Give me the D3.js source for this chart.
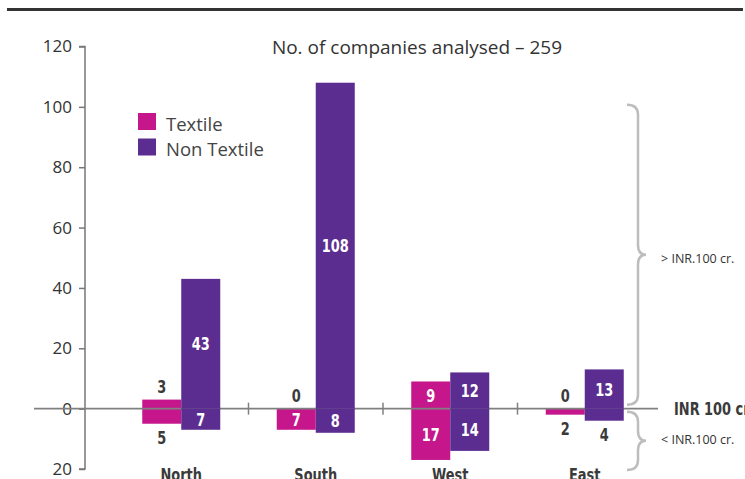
<!DOCTYPE html>
<html>
<head>
<meta charset="utf-8">
<script src="https://cdn.jsdelivr.net/npm/d3@7/dist/d3.min.js"></script>
<style>
  html, body { margin: 0; padding: 0; background: #fff; }
  svg { display: block; }
  .reg { font-family: "Open Sans", "Noto Sans", sans-serif; }
  .cond { font-family: "Liberation Sans Narrow", "DejaVu Sans Condensed", sans-serif; font-weight: bold; }
</style>
</head>
<body>
<svg id="chart" width="745" height="479"></svg>
<script>
// Companies by region, split by turnover band (above / below INR 100 cr)
const regions = ["North", "South", "West", "East"];
const series = ["Textile", "Non Textile"];
const textileAbove = [3, 0, 9, 0];
const textileBelow = [5, 7, 17, 2];
const nonTextileAbove = [43, 108, 12, 13];
const nonTextileBelow = [7, 8, 14, 4];
const yTicks = [-20, 0, 20, 40, 60, 80, 100, 120];
const title = "No. of companies analysed \u2013 259";

const colors = { "Textile": "#c5168c", "Non Textile": "#5c2d91" };
const textDark = "#3a3a3a";

const svg = d3.select("#chart");

// narrow bold text, squeezed horizontally
function condText(px, py, str, opts = {}) {
  return svg.append("text").attr("class", "cond")
    .attr("transform", `translate(${px},${py}) scale(0.8,1)`)
    .attr("dy", opts.dy || null)
    .attr("text-anchor", opts.anchor || "middle")
    .attr("font-size", 18).attr("fill", opts.fill || textDark).text(str);
}

// top rule
svg.append("rect").attr("x", 7).attr("y", 8).attr("width", 736).attr("height", 3).attr("fill", "#333");

const y = d3.scaleLinear().domain([-20, 120]).range([469, 46.5]);
const x = d3.scaleBand().domain(regions).range([114, 652]);
const xs = d3.scaleBand().domain(series)
  .range([(x.bandwidth() - 78) / 2, (x.bandwidth() + 78) / 2]);

// y axis
const yAxis = d3.axisLeft(y).tickValues(yTicks).tickSize(6).tickPadding(7)
  .tickFormat(d => String(Math.abs(d)));
const ga = svg.append("g").attr("transform", "translate(85,0)").call(yAxis);
ga.select(".domain").attr("stroke", "#777").attr("stroke-width", 1.5).attr("d", `M-6,${y(120)}H0V${y(-20)}H-6`);
ga.selectAll(".tick line").attr("stroke", "#777").attr("stroke-width", 1.5);
ga.selectAll(".tick text").attr("class", "reg").attr("font-size", 17).attr("fill", "#333");

// rows of bars
const rows = regions.map((r, i) => ({
  region: r,
  vals: [
    { s: "Textile", above: textileAbove[i], below: textileBelow[i] },
    { s: "Non Textile", above: nonTextileAbove[i], below: nonTextileBelow[i] }
  ]
}));

function drawBars(sName) {
  rows.forEach(row => {
    const v = row.vals.find(d => d.s === sName);
    const bx = x(row.region) + xs(sName);
    svg.append("rect").attr("x", bx).attr("width", xs.bandwidth())
      .attr("y", y(v.above)).attr("height", y(0) - y(v.above)).attr("fill", colors[sName]);
    svg.append("rect").attr("x", bx).attr("width", xs.bandwidth())
      .attr("y", y(0)).attr("height", y(-v.below) - y(0)).attr("fill", colors[sName]);
  });
}

drawBars("Textile");

// zero line and region separators
svg.append("line").attr("x1", 34).attr("x2", 658).attr("y1", y(0)).attr("y2", y(0))
  .attr("stroke", "#808080").attr("stroke-width", 1.8);
regions.slice(1).forEach(r => {
  svg.append("line").attr("x1", x(r)).attr("x2", x(r)).attr("y1", y(0) - 6).attr("y2", y(0) + 6)
    .attr("stroke", "#808080").attr("stroke-width", 1.5);
});

drawBars("Non Textile");

// value labels: inside tall bars, outside short ones
const inside = 6;
rows.forEach(row => {
  row.vals.forEach(v => {
    const cx = x(row.region) + xs(v.s) + xs.bandwidth() / 2;
    let ly, col;
    if (v.above >= inside) { ly = (y(v.above) + y(0)) / 2; col = "#fff"; }
    else { ly = y(v.above) - 13; col = textDark; }
    condText(cx, ly, v.above, { dy: "0.36em", fill: col });
    if (v.below >= inside) { ly = (y(-v.below) + y(0)) / 2; col = "#fff"; }
    else { ly = y(-v.below) + 14; col = textDark; }
    condText(cx, ly, v.below, { dy: "0.36em", fill: col });
  });
});

// region names
regions.forEach(r => condText(x(r) + x.bandwidth() / 2, 481, r));

// title
svg.append("text").attr("class", "reg").attr("x", 417).attr("y", 54).attr("text-anchor", "middle")
  .attr("font-size", 19).attr("fill", "#333").text(title);

// legend
series.forEach((s, i) => {
  const ly = 113 + i * 25.5;
  svg.append("rect").attr("x", 138).attr("y", ly).attr("width", 18).attr("height", 17).attr("fill", colors[s]);
  svg.append("text").attr("class", "reg").attr("x", 166).attr("y", ly + 17.5)
    .attr("font-size", 18.5).attr("fill", "#444").text(s);
});

// braces for the turnover bands
function brace(top, bottom, xl, xm, xt) {
  const mid = (top + bottom) / 2;
  const r = 10;
  return `M${xl},${top} Q${xm},${top} ${xm},${top + r} L${xm},${mid - r} Q${xm},${mid} ${xt},${mid}` +
         ` Q${xm},${mid} ${xm},${mid + r} L${xm},${bottom - r} Q${xm},${bottom} ${xl},${bottom}`;
}
svg.append("path").attr("d", brace(y(100) - 2, y(0) - 4, 627, 638, 646))
  .attr("fill", "none").attr("stroke", "#bdbdbd").attr("stroke-width", 2.5);
svg.append("path").attr("d", brace(y(0) + 3, y(-20) + 1, 627, 638, 646))
  .attr("fill", "none").attr("stroke", "#bdbdbd").attr("stroke-width", 2.5);

svg.append("text").attr("class", "reg").attr("x", 661).attr("y", (y(100) + y(0)) / 2 + 1).attr("dy", "0.35em")
  .attr("font-size", 12.5).attr("fill", "#333").text("> INR.100 cr.");
svg.append("text").attr("class", "reg").attr("x", 661).attr("y", (y(0) + y(-20)) / 2 + 1).attr("dy", "0.35em")
  .attr("font-size", 12.5).attr("fill", "#333").text("< INR.100 cr.");
condText(674, y(0), "INR 100 cr", { dy: "0.36em", anchor: "start" });
</script>
</body>
</html>
